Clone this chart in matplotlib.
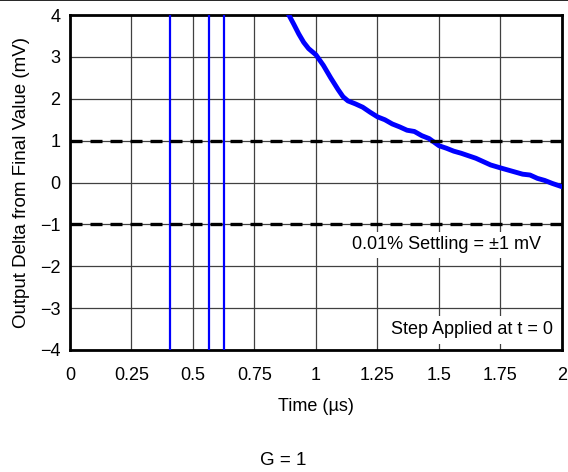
import numpy as np
import matplotlib
matplotlib.use("Agg")
import matplotlib.pyplot as plt
from matplotlib.lines import Line2D

plt.rcParams['font.family'] = ['Liberation Sans', 'DejaVu Sans']

# off-scale edges of the step (trace crosses whole window)
edge_t = [0.407, 0.565, 0.626]

# settling tail (us, mV)
tail_t = [0.89, 0.91, 0.93, 0.95, 0.97, 1.00, 1.03, 1.06, 1.09, 1.11, 1.13,
          1.16, 1.19, 1.22, 1.25, 1.28, 1.31, 1.34, 1.37, 1.40, 1.43, 1.46,
          1.50, 1.53, 1.56, 1.59, 1.62, 1.65, 1.68, 1.71, 1.75, 1.78, 1.81,
          1.84, 1.87, 1.90, 1.93, 1.96, 2.00]
tail_v = [4.00, 3.78, 3.55, 3.35, 3.20, 3.05, 2.80, 2.50, 2.22, 2.05, 1.95,
          1.88, 1.80, 1.68, 1.57, 1.50, 1.40, 1.33, 1.25, 1.22, 1.12, 1.05,
          0.88, 0.82, 0.75, 0.70, 0.64, 0.58, 0.50, 0.42, 0.35, 0.30, 0.25,
          0.20, 0.18, 0.10, 0.05, -0.02, -0.10]

band = [1, -1]
xticks = [0, 0.25, 0.5, 0.75, 1, 1.25, 1.5, 1.75, 2]
xticklabels = ['0', '0.25', '0.5', '0.75', '1', '1.25', '1.5', '1.75', '2']
yticks = [-4, -3, -2, -1, 0, 1, 2, 3, 4]

fig = plt.figure(figsize=(5.68, 4.72), dpi=100)
ax = fig.add_axes([0.1232, 0.2585, 0.8662, 0.7095])

ax.set_xlim(0, 2)
ax.set_ylim(-4, 4)
ax.set_xticks(xticks)
ax.set_xticklabels(xticklabels)
ax.set_yticks(yticks)
ax.tick_params(length=0, labelsize=13, colors='black')
ax.tick_params(axis='x', pad=12)
ax.tick_params(axis='y', pad=7)
ax.grid(True, color='#404040', lw=0.9)
ax.set_axisbelow(True)
for s in ax.spines.values():
    s.set_linewidth(2.0)

for t in edge_t:
    ax.axvline(t, color='#0000ff', lw=1.6, zorder=3)
ax.plot(tail_t, tail_v, color='#0000ff', lw=3.5, zorder=3)

for b in band:
    ax.axhline(b, color='black', lw=2.4, ls=(0, (3.6, 2.4)), zorder=4)

ax.text(1.915, -1.49, '0.01% Settling = \u00b11 mV', ha='right', va='center',
        fontsize=13, zorder=5,
        bbox=dict(facecolor='white', edgecolor='none', pad=3))
ax.text(1.965, -3.52, 'Step Applied at t = 0', ha='right', va='center',
        fontsize=13, zorder=5,
        bbox=dict(facecolor='white', edgecolor='none', pad=4))

ax.set_xlabel('Time (\u00b5s)', fontsize=13, labelpad=10)
ax.set_ylabel('Output Delta from Final Value (mV)', fontsize=13.5, labelpad=7)

fig.text(0.4982, 0.025, 'G = 1', ha='center', va='center', fontsize=13.5)
fig.add_artist(Line2D([0, 1], [0.999, 0.999], transform=fig.transFigure,
                      color='black', lw=1.2))

fig.savefig('out.png', dpi=100)
